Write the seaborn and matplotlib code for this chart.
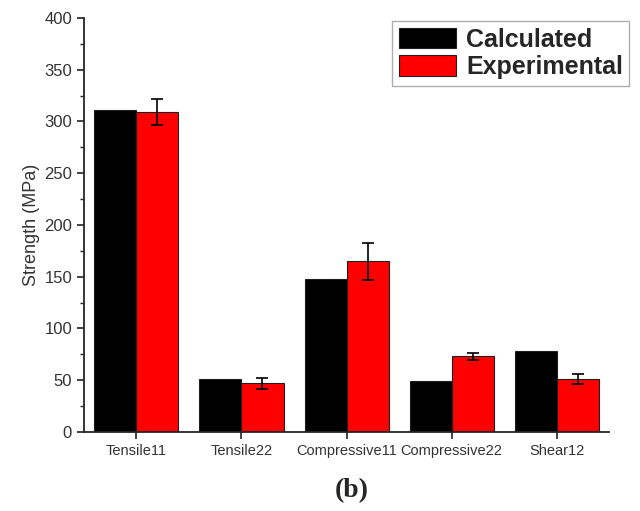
import numpy as np
import pandas as pd
import matplotlib
matplotlib.use("Agg")
import matplotlib.pyplot as plt
from matplotlib.ticker import MultipleLocator
import seaborn as sns

categories = ["Tensile11", "Tensile22", "Compressive11", "Compressive22", "Shear12"]
calculated = [311, 51, 148, 49, 78]
experimental = [309, 47, 165, 73, 51]
exp_err = [12.5, 5, 18, 3, 5]

sns.set_style("ticks")
plt.rcParams['font.family'] = ['Liberation Sans', 'DejaVu Sans']

df = pd.DataFrame({
    "Property": categories * 2,
    "Strength": calculated + experimental,
    "Series": ["Calculated"] * len(categories) + ["Experimental"] * len(categories),
})
palette = {"Calculated": "#000000", "Experimental": "#ff0000"}

fig = plt.figure(figsize=(6.4, 5.11), dpi=100)
ax = fig.add_axes([0.131, 0.1546, 0.821, 0.8104])

sns.barplot(data=df, x="Property", y="Strength", hue="Series", palette=palette,
            errorbar=None, edgecolor="#202020", linewidth=0.8, saturation=1, ax=ax)

# error bars on the experimental bars
for patch, e in zip(ax.containers[1].patches, exp_err):
    xc = patch.get_x() + patch.get_width() / 2
    ax.errorbar(xc, patch.get_height(), yerr=e, fmt="none", ecolor="black",
                elinewidth=1.2, capsize=4, capthick=1.2)

ax.set_ylim(0, 400)
ax.set_xlim(-0.5, 4.5)
ax.yaxis.set_major_locator(MultipleLocator(50))
ax.yaxis.set_minor_locator(MultipleLocator(25))
ax.tick_params(axis="both", which="major", direction="out", length=5, width=1.2,
               colors="#222222", labelsize=12)
ax.tick_params(axis="x", labelsize=10.5)
ax.tick_params(axis="y", which="minor", direction="out", length=3, width=1)
for lbl in ax.get_xticklabels() + ax.get_yticklabels():
    lbl.set_color("#333333")
sns.despine(ax=ax)
ax.spines["left"].set_linewidth(1.3)
ax.spines["bottom"].set_linewidth(1.3)
ax.set_xlabel("")
ax.set_ylabel("Strength (MPa)", fontsize=13, color="#333333", labelpad=3)

leg = ax.legend(loc="upper right", bbox_to_anchor=(1.062, 1.022), frameon=True,
                fancybox=False, edgecolor="#999999", handlelength=2.3, handleheight=0.9,
                handletextpad=0.4, labelspacing=0.15, borderpad=0.25,
                prop={"weight": "bold", "size": 18})
leg.get_frame().set_linewidth(1.0)

fig.text(0.55, 0.04, "(b)", ha="center", va="center", fontsize=20,
         fontweight="bold", family=["Liberation Serif", "DejaVu Serif"])

fig.savefig("out.png", dpi=100)
